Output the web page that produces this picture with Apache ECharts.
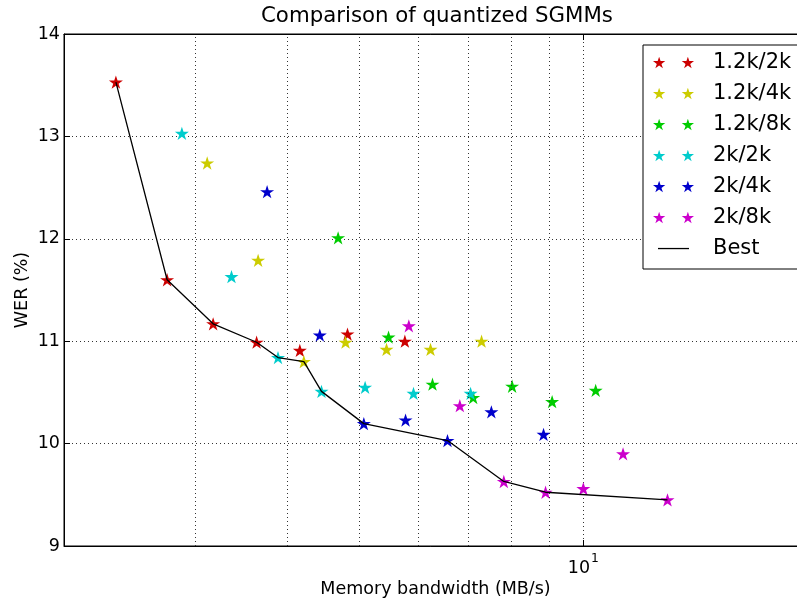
<!DOCTYPE html>
<html>
<head>
<meta charset="utf-8">
<script src="https://cdn.jsdelivr.net/npm/echarts@6/dist/echarts.min.js"></script>
<style>html,body{margin:0;padding:0;background:#fff;}#c{width:797px;height:600px;}</style>
</head>
<body>
<div id="c"></div>
<script>
// ---- data ----
const seriesNames = ['1.2k/2k', '1.2k/4k', '1.2k/8k', '2k/2k', '2k/4k', '2k/8k'];
const seriesColors = ['#cc0000', '#cccc00', '#00cc00', '#00cccc', '#0000cc', '#cc00cc'];
const x_12k_2k = [2.349, 2.753, 3.175, 3.633, 4.154, 4.815, 5.752];
const y_12k_2k = [13.53, 11.60, 11.17, 10.99, 10.91, 11.07, 11.00];
const x_12k_4k = [3.117, 3.650, 4.206, 4.786, 5.434, 6.228, 7.295];
const y_12k_4k = [12.74, 11.79, 10.80, 10.99, 10.92, 10.92, 11.00];
const x_12k_8k = [4.677, 5.468, 6.266, 7.108, 8.02, 9.078, 10.39];
const y_12k_8k = [12.01, 11.04, 10.58, 10.45, 10.56, 10.41, 10.52];
const x_2k_2k = [2.882, 3.361, 3.882, 4.442, 5.085, 5.908, 7.051];
const y_2k_2k = [13.03, 11.63, 10.84, 10.51, 10.55, 10.49, 10.49];
const x_2k_4k = [3.753, 4.419, 5.065, 5.764, 6.564, 7.52, 8.84];
const y_2k_4k = [12.46, 11.06, 10.195, 10.23, 10.03, 10.31, 10.09];
const x_2k_8k = [5.823, 6.82, 7.816, 8.895, 10.0, 11.31, 12.98];
const y_2k_8k = [11.15, 10.37, 9.63, 9.525, 9.56, 9.90, 9.45];
const bestX = [2.349, 2.753, 3.175, 3.633, 3.882, 4.206, 4.442, 5.065, 6.564, 7.816, 8.895, 12.98];
const bestY = [13.53, 11.60, 11.17, 10.99, 10.84, 10.80, 10.51, 10.195, 10.03, 9.63, 9.525, 9.45];
const minorGridValues = [3, 4, 5, 6, 7, 8, 9];
const xMin = 2, xMax = 20, yMin = 9, yMax = 14, yInterval = 1;

const allX = [x_12k_2k, x_12k_4k, x_12k_8k, x_2k_2k, x_2k_4k, x_2k_8k];
const allY = [y_12k_2k, y_12k_4k, y_12k_8k, y_2k_2k, y_2k_4k, y_2k_8k];

// ---- shapes ----
function starPath(cx, cy, R) {
  const r = R * 0.381966;
  let d = '';
  for (let i = 0; i < 10; i++) {
    const a = -Math.PI / 2 + i * Math.PI / 5;
    const rr = i % 2 === 0 ? R : r;
    d += (i === 0 ? 'M' : 'L') + (cx + rr * Math.cos(a)).toFixed(3) + ',' + (cy + rr * Math.sin(a)).toFixed(3) + ' ';
  }
  return d + 'Z ';
}
const starSymbol = 'path://' + starPath(0, 0, 10);
const legendStars = 'path://' + starPath(6.18, 6.5, 6.5) + starPath(35.18, 6.5, 6.5);
const legendLine = 'path://M0,0 M41,12 M5,5.4 L36,5.4 L36,6.7 L5,6.7 Z';

const FONT = 'DejaVu Sans';
const TICK_FS = 17.5;
const chart = echarts.init(document.getElementById('c'), null, {renderer: 'canvas'});

const series = seriesNames.map((n, i) => ({
  name: n,
  type: 'scatter',
  data: allX[i].map((x, j) => [x, allY[i][j]]),
  symbol: starSymbol,
  symbolSize: [14, 13.3],
  itemStyle: {color: seriesColors[i], opacity: 1},
  z: 3,
  silent: true
}));
series.unshift({
  name: 'grid',
  type: 'line',
  data: [],
  z: 1,
  silent: true,
  markLine: {
    silent: true,
    symbol: 'none',
    label: {show: false},
    lineStyle: {color: '#333', width: 1, type: [1, 3]},
    emphasis: {disabled: true},
    animation: false,
    data: minorGridValues.map(v => ({xAxis: v}))
  }
});
series.push({
  name: 'Best',
  type: 'line',
  data: bestX.map((x, j) => [x, bestY[j]]),
  symbol: 'none',
  lineStyle: {color: '#000', width: 1.3},
  itemStyle: {color: '#000'},
  z: 5,
  silent: true
});

const option = {
  animation: false,
  backgroundColor: '#fff',
  textStyle: {fontFamily: FONT},
  title: {
    text: 'Comparison of quantized SGMMs',
    left: 261, top: 6,
    padding: 0,
    textStyle: {fontFamily: FONT, fontSize: 21.3, fontWeight: 'normal', color: '#000'}
  },
  legend: {
    orient: 'vertical',
    left: 643, top: 45,
    padding: [7, 16, 10, 10],
    itemGap: 10.0,
    itemWidth: 41,
    itemHeight: 12,
    backgroundColor: '#fff',
    borderColor: '#000',
    borderWidth: 1,
    borderRadius: 0,
    selectedMode: false,
    z: 10,
    textStyle: {fontFamily: FONT, fontSize: 21, color: '#000', padding: [0, 0, 0, 14]},
    data: seriesNames.map(n => ({name: n, icon: legendStars})).concat([{name: 'Best', icon: legendLine}])
  },
  grid: {left: 64, top: 34, right: -10, bottom: 54, show: true, borderColor: '#000', borderWidth: 1, backgroundColor: 'transparent', containLabel: false, outerBoundsMode: 'none'},
  xAxis: [{
    type: 'log', logBase: 10, min: xMin, max: xMax,
    name: 'Memory bandwidth (MB/s)', nameLocation: 'middle', nameGap: 34, nameMoveOverlap: false,
    nameTextStyle: {fontFamily: FONT, fontSize: TICK_FS, color: '#000'},
    axisLine: {show: true, lineStyle: {color: '#000', width: 1}},
    axisTick: {show: true, inside: true, length: 6, lineStyle: {color: '#000'}},
    axisLabel: {
      margin: 7, color: '#000', showMinLabel: false, showMaxLabel: false,
      formatter: v => (Math.abs(v - 10) < 1e-9 ? '{b|10}{s|1}' : ''),
      rich: {
        b: {fontFamily: FONT, fontSize: TICK_FS, color: '#000', padding: [6, 0, 0, 0]},
        s: {fontFamily: FONT, fontSize: 12.3, color: '#000', verticalAlign: 'top', padding: [0, 0, 8, 1]}
      }
    },
    splitLine: {show: true, lineStyle: {color: '#333', width: 1, type: [1, 3]}}
  }, {
    type: 'log', logBase: 10, min: xMin, max: xMax, position: 'top',
    axisLine: {show: true, lineStyle: {color: '#000', width: 1}},
    axisTick: {show: true, inside: true, length: 6, lineStyle: {color: '#000'}},
    axisLabel: {show: false},
    splitLine: {show: false}
  }],
  yAxis: [{
    type: 'value', min: yMin, max: yMax, interval: yInterval,
    name: 'WER (%)', nameLocation: 'middle', nameGap: 33, nameRotate: 90, nameMoveOverlap: false,
    nameTextStyle: {fontFamily: FONT, fontSize: TICK_FS, color: '#000'},
    axisLine: {show: true, lineStyle: {color: '#000', width: 1}},
    axisTick: {show: true, inside: true, length: 6, lineStyle: {color: '#000'}},
    axisLabel: {margin: 4, color: '#000', fontFamily: FONT, fontSize: TICK_FS},
    splitLine: {show: true, lineStyle: {color: '#333', width: 1, type: [1, 3]}}
  }],
  series: series
};
chart.setOption(option);
</script>
</body>
</html>
